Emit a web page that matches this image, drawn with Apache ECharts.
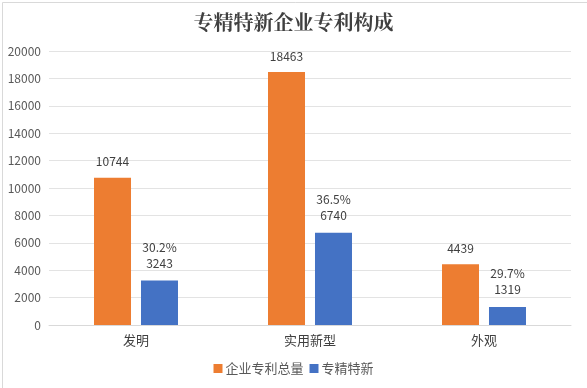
<!DOCTYPE html>
<html>
<head>
<meta charset="utf-8">
<script src="https://cdn.jsdelivr.net/npm/echarts@6/dist/echarts.min.js"></script>
<style>
html,body{margin:0;padding:0;background:#fff;}
#c{width:587px;height:388px;}
</style>
</head>
<body>
<div id="c"></div>
<script>
const categories = ['发明', '实用新型', '外观'];
const totalValues = [10744, 18463, 4439];
const srdiValues = [3243, 6740, 1319];
const srdiShares = ['30.2%', '36.5%', '29.7%'];
const seriesNames = ['企业专利总量', '专精特新'];
const yTicks = [0, 2000, 4000, 6000, 8000, 10000, 12000, 14000, 16000, 18000, 20000];

const chart = echarts.init(document.getElementById('c'), null, {renderer: 'canvas'});
const fontFam = '"Microsoft YaHei","Noto Sans CJK SC",sans-serif';
chart.setOption({
  animation: false,
  backgroundColor: '#fff',
  graphic: [{
    type: 'rect', left: 0, top: 0,
    shape: {x: 0.5, y: 0.5, width: 586, height: 387},
    style: {fill: 'none', stroke: '#d9d9d9', lineWidth: 1}, silent: true
  }],
  title: {
    text: '专精特新企业专利构成',
    left: 'center', top: 7,
    textStyle: {fontFamily: '"Noto Serif CJK SC","Noto Sans CJK SC",serif', fontWeight: 'bold', fontSize: 20, color: '#404040'}
  },
  legend: {
    bottom: 8, left: 'center',
    itemWidth: 9, itemHeight: 9, itemGap: 6, icon: 'rect',
    textStyle: {fontFamily: fontFam, fontSize: 13, color: '#595959', padding: [0, 0, 0, -2]},
    data: seriesNames
  },
  grid: {left: 49, right: 16, top: 51, bottom: 63, containLabel: false},
  xAxis: {
    type: 'category', data: categories,
    axisTick: {show: false},
    axisLine: {lineStyle: {color: '#d9d9d9', width: 1}},
    axisLabel: {fontFamily: fontFam, fontSize: 13, color: '#404040', margin: 9}
  },
  yAxis: {
    type: 'value', min: yTicks[0], max: yTicks[yTicks.length - 1], interval: 2000,
    axisLine: {show: false}, axisTick: {show: false},
    splitLine: {lineStyle: {color: '#e3e3e3', width: 1}},
    axisLabel: {fontFamily: fontFam, fontSize: 12, color: '#595959', margin: 8, formatter: v => String(v)}
  },
  series: [
    {
      name: seriesNames[0], type: 'bar', data: totalValues,
      barWidth: 37, barGap: '27%',
      itemStyle: {color: '#ED7D31'},
      label: {show: true, position: 'top', distance: 10, fontFamily: fontFam, fontSize: 12, color: '#404040'}
    },
    {
      name: seriesNames[1], type: 'bar', data: srdiValues,
      barWidth: 37,
      itemStyle: {color: '#4472C4'},
      label: {
        show: true, position: 'top', distance: 9, fontFamily: fontFam, fontSize: 12, color: '#404040', lineHeight: 16,
        formatter: p => srdiShares[p.dataIndex] + '\n' + p.value
      }
    }
  ]
});
</script>
</body>
</html>
